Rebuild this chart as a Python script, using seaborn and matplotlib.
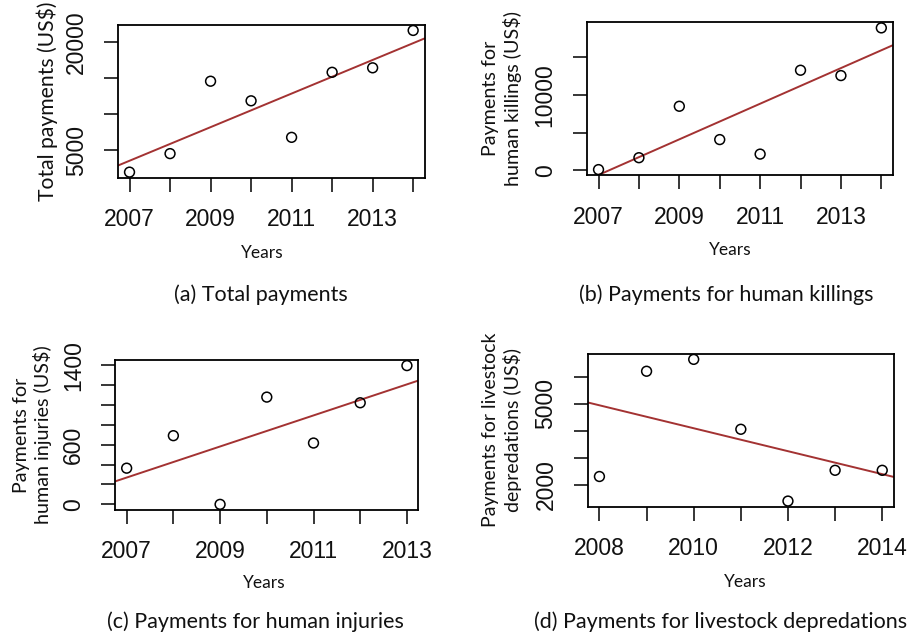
import numpy as np
import pandas as pd
import matplotlib
matplotlib.use("Agg")
import matplotlib.pyplot as plt
import seaborn as sns

# values
years_a = [2007, 2008, 2009, 2010, 2011, 2012, 2013, 2014]
total_payments = [1960, 4530, 14580, 11860, 6790, 15820, 16440, 21630]

years_b = [2007, 2008, 2009, 2010, 2011, 2012, 2013, 2014]
human_killings = [90, 1670, 8510, 4080, 2150, 13300, 12590, 18930]

years_c = [2007, 2008, 2009, 2010, 2011, 2012, 2013]
human_injuries = [364, 691, 0, 1079, 617, 1022, 1396]

years_d = [2008, 2009, 2010, 2011, 2012, 2013, 2014]
livestock = [2310, 6210, 6650, 4060, 1400, 2540, 2540]

panels = [
    dict(x=years_a, y=total_payments, ylabel="Total payments (US$)", ylab_fs=15.2,
         yticks=[5000, 10000, 15000, 20000], ylabels=["5000", "", "", "20000"],
         caption="(a) Total payments",
         rect=[0.130, 0.720, 0.337, 0.241], ylab_x=-0.232, xlab_x=0.47, cap=(261, 295)),
    dict(x=years_b, y=human_killings, ylabel="Payments for\nhuman killings (US$)", ylab_fs=14.2,
         yticks=[0, 5000, 10000, 15000], ylabels=["0", "", "10000", ""],
         caption="(b) Payments for human killings",
         rect=[0.646, 0.724, 0.336, 0.241], ylab_x=-0.279, xlab_x=0.469, cap=(726, 295)),
    dict(x=years_c, y=human_injuries, ylabel="Payments for\nhuman injuries (US$)", ylab_fs=14.2,
         yticks=[0, 200, 400, 600, 800, 1000, 1200, 1400],
         ylabels=["0", "", "", "600", "", "", "", "1400"],
         caption="(c) Payments for human injuries",
         rect=[0.127, 0.197, 0.333, 0.236], ylab_x=-0.274, xlab_x=0.492, cap=(255, 622)),
    dict(x=years_d, y=livestock, ylabel="Payments for livestock\ndepredations (US$)", ylab_fs=14.0,
         yticks=[2000, 3000, 4000, 5000, 6000], ylabels=["2000", "", "", "5000", ""],
         caption="(d) Payments for livestock depredations",
         rect=[0.647, 0.202, 0.336, 0.241], ylab_x=-0.282, xlab_x=0.515, cap=(721, 622)),
]

sns.set_theme(style="white")
plt.rcParams["font.family"] = ["Liberation Sans", "DejaVu Sans"]

W, H = 909, 635
fig = plt.figure(figsize=(W / 100, H / 100), dpi=100)
label_font = "Lato"
text_color = "#111111"
line_color = "#a33232"

for p in panels:
    ax = fig.add_axes(p["rect"])
    df = pd.DataFrame({"year": p["x"], "value": p["y"]})
    x0, x1 = min(p["x"]), max(p["x"])
    y0, y1 = min(p["y"]), max(p["y"])
    dx, dy = (x1 - x0) * 0.04, (y1 - y0) * 0.04
    ax.set_xlim(x0 - dx, x1 + dx)
    ax.set_ylim(y0 - dy, y1 + dy)
    sns.regplot(data=df, x="year", y="value", ax=ax, ci=None, truncate=False,
                color="black",
                scatter_kws=dict(s=50, facecolors="none", edgecolors="black",
                                 linewidths=1.1, alpha=1, zorder=3),
                line_kws=dict(color=line_color, lw=1.4))
    ax.set_xlim(x0 - dx, x1 + dx)
    ax.set_ylim(y0 - dy, y1 + dy)

    xt = list(range(x0, x1 + 1))
    ax.set_xticks(xt)
    ax.set_xticklabels([str(v) if (v - x0) % 2 == 0 else "" for v in xt])
    ax.set_yticks(p["yticks"])
    ax.set_yticklabels(p["ylabels"], rotation=90, va="center")
    ax.tick_params(axis="both", length=10, width=1.1, color="black",
                   labelsize=16.5, labelcolor=text_color, pad=12, direction="out",
                   bottom=True, left=True)
    for s in ax.spines.values():
        s.set_color("black")
        s.set_linewidth(1.3)

    ax.set_xlabel("Years", family=label_font, fontsize=12.5, va="center", color=text_color)
    ax.xaxis.set_label_coords(p["xlab_x"], -0.49)
    ax.set_ylabel(p["ylabel"], family=label_font, fontsize=p["ylab_fs"], va="center",
                  linespacing=1.2, color=text_color)
    ax.yaxis.set_label_coords(p["ylab_x"], 0.5)

    cx, cy = p["cap"]
    fig.text(cx / W, 1 - cy / H, p["caption"], family=label_font, fontsize=15.5,
             ha="center", va="center", color=text_color)

fig.savefig("out.png", dpi=100, facecolor="white")
